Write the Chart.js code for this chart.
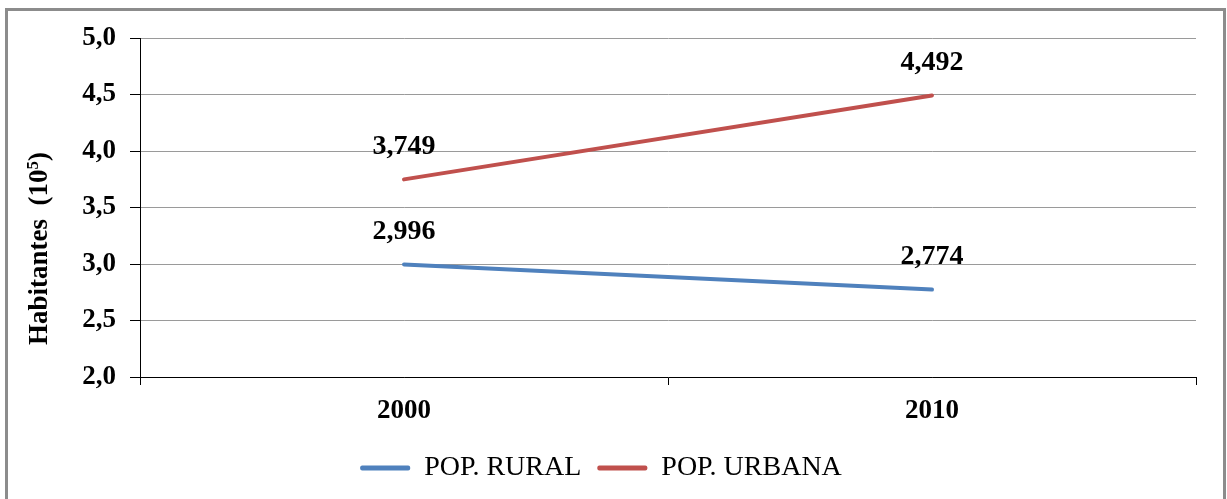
<!DOCTYPE html>
<html>
<head>
<meta charset="utf-8">
<script src="https://cdn.jsdelivr.net/npm/chart.js@4/dist/chart.umd.min.js"></script>
<style>
  html, body { margin: 0; padding: 0; background: #fff; }
  #wrap { width: 1227px; height: 499px; position: relative; }
</style>
</head>
<body>
<div id="wrap"><canvas id="c" width="1227" height="499"></canvas></div>
<script>
// Population series (in units of 10^5 inhabitants)
const years = ['2000', '2010'];
const popRural = [2.996, 2.774];
const popUrbana = [3.749, 4.492];
const yTicks = [2.0, 2.5, 3.0, 3.5, 4.0, 4.5, 5.0];

const SERIF = '"Liberation Serif", "Times New Roman", serif';
const fmt = v => v.toFixed(3).replace('.', ',');

// Frame around the whole chart
const framePlugin = {
  id: 'frame',
  beforeDraw(chart) {
    const ctx = chart.ctx;
    ctx.save();
    ctx.fillStyle = '#fff';
    ctx.fillRect(0, 0, chart.width, chart.height);
    ctx.strokeStyle = '#8c8c8c';
    ctx.lineWidth = 3;
    ctx.strokeRect(6.5, 9.5, 1218, 500);
    ctx.restore();
  }
};

// Value labels above each point
const valueLabels = {
  id: 'valueLabels',
  afterDatasetsDraw(chart) {
    const ctx = chart.ctx;
    ctx.save();
    ctx.font = 'bold 28px ' + SERIF;
    ctx.fillStyle = '#000';
    ctx.textAlign = 'center';
    ctx.textBaseline = 'middle';
    chart.data.datasets.forEach((ds, i) => {
      const meta = chart.getDatasetMeta(i);
      meta.data.forEach((pt, j) => {
        ctx.fillText(fmt(ds.data[j]), pt.x, pt.y - 33);
      });
    });
    ctx.restore();
  }
};

// Vertical axis title with superscript exponent
const yTitle = {
  id: 'yTitle',
  afterDraw(chart) {
    const ctx = chart.ctx;
    ctx.save();
    ctx.translate(47, 345);
    ctx.rotate(-Math.PI / 2);
    ctx.fillStyle = '#000';
    ctx.textAlign = 'left';
    ctx.textBaseline = 'alphabetic';
    ctx.font = 'bold 27px ' + SERIF;
    const main = 'Habitantes  (10';
    ctx.fillText(main, 0, 0);
    let x = ctx.measureText(main).width;
    ctx.font = 'bold 17px ' + SERIF;
    ctx.fillText('5', x, -9);
    x += ctx.measureText('5').width;
    ctx.font = 'bold 27px ' + SERIF;
    ctx.fillText(')', x, 0);
    ctx.restore();
  }
};

new Chart(document.getElementById('c'), {
  type: 'line',
  data: {
    labels: years,
    datasets: [
      { label: 'POP. RURAL', data: popRural, borderColor: '#4F81BD', backgroundColor: '#4F81BD',
        borderWidth: 4, pointRadius: 0, tension: 0, borderCapStyle: 'round' },
      { label: 'POP. URBANA', data: popUrbana, borderColor: '#C0504D', backgroundColor: '#C0504D',
        borderWidth: 4, pointRadius: 0, tension: 0, borderCapStyle: 'round' }
    ]
  },
  options: {
    responsive: false,
    animation: false,
    layout: { padding: { left: 6, right: 31, top: 38, bottom: 7 } },
    plugins: {
      legend: {
        position: 'bottom',
        labels: {
          font: { family: SERIF, size: 28 },
          color: '#000',
          boxWidth: 50,
          boxHeight: 5,
          padding: 16,
          useBorderRadius: true,
          borderRadius: 2,
          generateLabels(chart) {
            return chart.data.datasets.map((ds, i) => ({
              text: ds.label, fillStyle: ds.borderColor, strokeStyle: ds.borderColor,
              lineWidth: 0, datasetIndex: i, hidden: false, fontColor: '#000', borderRadius: 2
            }));
          }
        }
      },
      tooltip: { enabled: false }
    },
    scales: {
      x: {
        type: 'category',
        offset: true,
        grid: { offset: true, drawOnChartArea: false, drawTicks: true, tickLength: 8, tickColor: '#000', tickWidth: 1 },
        border: { color: '#000', width: 1 },
        ticks: { font: { family: SERIF, size: 27, weight: 'bold' }, color: '#000', padding: 10 },
        afterFit(scale) { scale.height = 61; }
      },
      y: {
        min: 2.0, max: 5.0,
        afterBuildTicks(scale) { scale.ticks = yTicks.map(v => ({ value: v })); },
        grid: { color: '#9a9a9a', lineWidth: 1, tickLength: 10, tickColor: '#000', tickWidth: 1 },
        border: { color: '#000', width: 1 },
        ticks: { font: { family: SERIF, size: 27, weight: 'bold' }, color: '#000', padding: 14,
                 callback: v => v.toFixed(1).replace('.', ',') },
        afterFit(scale) { scale.width = 134; }
      }
    }
  },
  plugins: [framePlugin, valueLabels, yTitle]
});
</script>
</body>
</html>
